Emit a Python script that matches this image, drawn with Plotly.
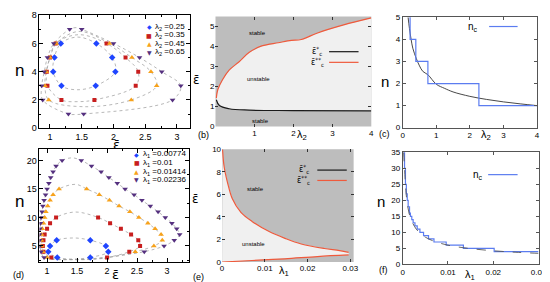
import plotly.graph_objects as go

W, H = 550, 282
FONT = "Liberation Sans"
SYMF = "DejaVu Sans"

# ---------------- data ----------------
# (a) loops: eps_bar vs n for lambda2 values (ordered round each loop)
lam2_labels = ["0.25", "0.35", "0.45", "0.65"]
a_blue_x = [1.42, 1.72, 2.03, 1.98, 1.73, 1.43, 1.17, 1.07, 1.05, 1.18]
a_blue_n = [2.72, 3, 4, 5, 6, 6.45, 6, 5, 4, 3]
a_red_x = [1.45, 1.70, 2.35, 2.39, 2.19, 1.89, 1.45, 1.09, 1.00, 0.95, 0.96, 1.18]
a_red_n = [1.88, 2, 3, 4, 5, 6, 6.62, 6, 5, 4, 3, 2]
a_orange_x = [1.55, 2.28, 2.68, 2.59, 2.29, 1.94, 1.45, 1.10, 1.00, 0.94, 0.92, 0.98]
a_orange_n = [1.52, 2, 3, 4, 5, 6, 6.85, 6, 5, 4, 3, 2]
a_purple_x = [1.41, 1.53, 2.93, 3.06, 2.76, 2.41, 2.00, 1.50, 1.41, 1.31, 1.06, 0.96, 0.91, 0.87, 0.885, 1.29]
a_purple_n = [0.97, 1, 2, 3, 4, 5, 6, 7, 7.12, 7, 6, 5, 4, 3, 2, 1]

# (d) loops: eps_bar vs n for lambda1 values
lam1_labels = ["0.00774", "0.01", "0.01414", "0.02236"]
d_blue_x = [1.42, 1.72, 2.02, 1.98, 1.72, 1.45, 1.16, 1.05, 1.02, 1.17]
d_blue_n = [2.7, 3, 4, 5, 6, 6.4, 6, 5, 4, 3]
d_red_x = [1.45, 2.00, 2.37, 2.55, 2.52, 2.40, 2.23, 2.05, 1.85, 1.47, 1.15, 1.05, 1.00, 0.96, 0.94, 0.93, 0.94, 1.07]
d_red_n = [2.62, 3, 4, 5, 6, 7, 8, 9, 10, 10.95, 10, 9, 8, 7, 6, 5, 4, 3]
d_orange_x = [1.45, 1.95, 2.47, 2.78, 2.92, 2.90, 2.80, 2.68, 2.53, 2.38, 2.20, 2.04, 1.87, 1.66, 1.48,
              1.20, 1.10, 1.05, 1.01, 0.98, 0.96, 0.94, 0.92, 0.91, 0.905, 0.91, 0.93, 1.00]
d_orange_n = [2.6, 2.85, 4, 5, 6, 7, 8, 9, 10, 11, 12, 13, 14, 15, 15.8,
              15, 14, 13, 12, 11, 10, 9, 8, 7, 6, 5, 4, 3]
d_purple_x = [1.42, 2.05, 2.62, 2.95, 3.12, 3.21, 3.16, 3.08, 2.97, 2.85, 2.72, 2.58, 2.45, 2.30, 2.17, 2.03,
              1.90, 1.74, 1.57, 1.42, 1.25, 1.15, 1.10, 1.06, 1.03, 1.00, 0.975, 0.95, 0.93, 0.915, 0.90,
              0.89, 0.88, 0.875, 0.875, 0.88, 0.90, 0.95]
d_purple_n = [2.6, 3.1, 4, 5, 6, 7, 8, 9, 10, 11, 12, 13, 14, 15, 16, 17,
              18, 19, 20, 20.45, 20, 19, 18, 17, 16, 15, 14, 13, 12, 11, 10,
              9, 8, 7, 6, 5, 4, 3]

# (b) critical eps vs lambda2
b_lam_hi = [0.02, 0.06, 0.18, 0.35, 0.6, 0.86, 1.19, 1.61, 1.95, 2.2, 2.62, 3.29, 4.0]
b_eps_hi = [1.42, 1.85, 2.34, 2.82, 3.23, 3.70, 4.03, 4.19, 4.31, 4.35, 4.68, 5.08, 5.43]
b_lam_lo = [0.02, 0.1, 0.35, 0.86, 2.0, 4.0]
b_eps_lo = [1.34, 1.05, 0.89, 0.82, 0.80, 0.78]

# (c) n_c vs lambda2
c_lam_step = [0.20, 0.22, 0.39, 0.75, 2.27, 4.0]
c_n_step = [5, 4, 3, 2, 1, 1]
c_lam_curve = [0.16, 0.2, 0.25, 0.3, 0.4, 0.5, 0.6, 0.75, 1.0, 1.25, 1.5, 2.0, 2.5, 3.0, 3.5, 4.0]
c_n_curve = [5.0, 4.5, 4.0, 3.6, 3.15, 2.8, 2.55, 2.4, 1.97, 1.78, 1.62, 1.42, 1.28, 1.17, 1.08, 1.0]

# (e) critical eps vs lambda1
e_lam_hi = [0.0001, 0.0005, 0.0013, 0.0024, 0.0044, 0.007, 0.011, 0.0147, 0.0185, 0.0239, 0.0275, 0.0296]
e_eps_hi = [10.0, 8.4, 7.0, 5.6, 4.4, 3.6, 2.7, 2.1, 1.6, 1.2, 1.02, 0.86]
e_lam_lo = [0.0, 0.007, 0.0147, 0.0223, 0.0296]
e_eps_lo = [0.0, 0.14, 0.29, 0.49, 0.63]

# (f) n_c vs lambda1
f_lam_step = [0.0002, 0.0004, 0.0006, 0.0008, 0.001, 0.0012, 0.0015, 0.0017, 0.002, 0.0023, 0.0027,
              0.0032, 0.0038, 0.0046, 0.0057, 0.0069, 0.0096, 0.0134, 0.0202, 0.03]
f_n_step = [35, 30, 25, 22, 20, 18, 16, 15, 14, 13, 12, 11, 10, 9, 8, 7, 6, 5, 4, 4]
f_lam_curve = [0.0002, 0.0004, 0.0007, 0.001, 0.0014, 0.002, 0.003, 0.004, 0.005, 0.007, 0.01, 0.014, 0.02, 0.025, 0.03]
f_n_curve = [35, 30, 23, 19, 16, 13.5, 11, 9.6, 8.5, 7.2, 6.0, 5.1, 4.25, 3.8, 3.45]

# ---------------- styles ----------------
BLUE, RED, ORANGE, PURPLE = "#1f45ff", "#c81e1e", "#f7a21b", "#55307f"
SER = [(BLUE, "diamond", 5), (RED, "square", 4), (ORANGE, "triangle-up", 5), (PURPLE, "triangle-down", 5)]
GRAY, LIGHT = "#bdbdbd", "#f0f0f0"
LRED = "#ef5a3c"
STEPBLUE = "#5b7cf0"

fig = go.Figure()


def add_loops(loops, xa, ya):
    for xs, ns in loops:
        fig.add_trace(go.Scatter(x=xs + [xs[0]], y=ns + [ns[0]], mode="lines", xaxis=xa, yaxis=ya,
                                 line=dict(color="#9a9a9a", width=0.7, dash="dot", shape="spline"),
                                 showlegend=False, hoverinfo="skip"))
    for (xs, ns), (col, sym, sz) in zip(loops, SER):
        mx = [x for x, n in zip(xs, ns) if float(n).is_integer()]
        my = [n for n in ns if float(n).is_integer()]
        fig.add_trace(go.Scatter(x=mx, y=my, mode="markers", xaxis=xa, yaxis=ya,
                                 marker=dict(color=col, symbol=sym, size=sz, line=dict(width=0)),
                                 showlegend=False))


add_loops([(a_blue_x, a_blue_n), (a_red_x, a_red_n), (a_orange_x, a_orange_n), (a_purple_x, a_purple_n)], "x", "y")
add_loops([(d_blue_x, d_blue_n), (d_red_x, d_red_n), (d_orange_x, d_orange_n), (d_purple_x, d_purple_n)], "x4", "y4")

# (b)
fig.add_trace(go.Scatter(x=b_lam_lo + b_lam_hi[::-1], y=b_eps_lo + b_eps_hi[::-1], mode="lines",
                         fill="toself", fillcolor=LIGHT, line=dict(width=0), xaxis="x2", yaxis="y2",
                         showlegend=False, hoverinfo="skip"))
fig.add_trace(go.Scatter(x=b_lam_lo, y=b_eps_lo, mode="lines", line=dict(color="#1a1a1a", width=1.2, shape="spline"),
                         xaxis="x2", yaxis="y2", showlegend=False))
fig.add_trace(go.Scatter(x=b_lam_hi, y=b_eps_hi, mode="lines", line=dict(color=LRED, width=1.2, shape="spline"),
                         xaxis="x2", yaxis="y2", showlegend=False))

# (e)
fig.add_trace(go.Scatter(x=e_lam_hi + e_lam_lo[::-1], y=e_eps_hi + e_eps_lo[::-1], mode="lines",
                         fill="toself", fillcolor=LIGHT, line=dict(width=0), xaxis="x5", yaxis="y5",
                         showlegend=False, hoverinfo="skip"))
fig.add_trace(go.Scatter(x=e_lam_lo, y=e_eps_lo, mode="lines", line=dict(color=LRED, width=1.2, shape="spline"),
                         xaxis="x5", yaxis="y5", showlegend=False))
fig.add_trace(go.Scatter(x=e_lam_hi, y=e_eps_hi, mode="lines", line=dict(color=LRED, width=1.2, shape="spline"),
                         xaxis="x5", yaxis="y5", showlegend=False))

# (c)
fig.add_trace(go.Scatter(x=c_lam_curve, y=c_n_curve, mode="lines", line=dict(color="#333333", width=0.9, shape="spline"),
                         xaxis="x3", yaxis="y3", showlegend=False))
fig.add_trace(go.Scatter(x=c_lam_step, y=c_n_step, mode="lines", line=dict(color=STEPBLUE, width=1.2, shape="hv"),
                         xaxis="x3", yaxis="y3", showlegend=False))

# (f)
fig.add_trace(go.Scatter(x=f_lam_step, y=f_n_step, mode="lines", line=dict(color=STEPBLUE, width=1.2, shape="hv"),
                         xaxis="x6", yaxis="y6", showlegend=False))
fig.add_trace(go.Scatter(x=f_lam_curve, y=f_n_curve, mode="lines",
                         line=dict(color="#555555", width=0.9, dash="dash", shape="spline"),
                         xaxis="x6", yaxis="y6", showlegend=False))


def dom(p0, p1, total):
    return [p0 / total, p1 / total]


def ydom(top, bottom):
    return [1 - bottom / H, 1 - top / H]


tf9 = dict(size=9, family=FONT, color="black")
tf8 = dict(size=8, family=FONT, color="black")
box = dict(showline=True, linecolor="black", linewidth=1, mirror="allticks", ticks="inside", ticklen=4,
           tickcolor="black", showgrid=False, zeroline=False, tickfont=tf9)
gbox = dict(showline=True, linecolor="#555555", linewidth=1, mirror="allticks", ticks="inside", ticklen=3,
            tickcolor="#555555", showgrid=False, zeroline=False, tickfont=tf8)
gray = dict(showline=False, mirror="ticks", ticks="inside", ticklen=3, tickcolor="#333333",
            showgrid=False, zeroline=False, tickfont=tf8)

fig.update_layout(
    width=W, height=H, margin=dict(l=0, r=0, t=0, b=0),
    paper_bgcolor="white", plot_bgcolor="rgba(0,0,0,0)", showlegend=False,
    xaxis=dict(box, domain=dom(30, 183, W), range=[0.834, 3.2], anchor="y", tickvals=[1, 1.5, 2, 2.5, 3],
               minor=dict(ticks="inside", ticklen=2, dtick=0.25, tickcolor="black")),
    yaxis=dict(box, domain=ydom(3.3, 120), range=[0, 8], anchor="x", tickvals=[0, 2, 4, 6, 8],
               minor=dict(ticks="inside", ticklen=2, dtick=1, tickcolor="black")),
    xaxis2=dict(gray, domain=dom(209.3, 368, W), range=[0, 4], anchor="y2", tickvals=[1, 2, 3, 4]),
    yaxis2=dict(gray, domain=ydom(4.7, 118.3), range=[0, 5.5], anchor="x2", tickvals=[0, 1, 2, 3, 4, 5]),
    xaxis3=dict(gbox, domain=dom(400, 536.7, W), range=[0, 4], anchor="y3", tickvals=[0, 1, 2, 3, 4]),
    yaxis3=dict(gbox, domain=ydom(5.5, 119.5), range=[0, 5], anchor="x3", tickvals=[0, 1, 2, 3, 4, 5]),
    xaxis4=dict(box, domain=dom(30, 182, W), range=[0.873, 3.36], anchor="y4", tickvals=[1, 1.5, 2, 2.5, 3],
                minor=dict(ticks="inside", ticklen=2, dtick=0.25, tickcolor="black")),
    yaxis4=dict(box, domain=ydom(141.7, 258.3), range=[2.18, 21.97], anchor="x4", tickvals=[5, 10, 15, 20],
                minor=dict(ticks="inside", ticklen=2, dtick=2.5, tickcolor="black")),
    xaxis5=dict(gray, domain=dom(216, 350, W), range=[0, 0.03076], anchor="y5", tickvals=[0, 0.01, 0.02, 0.03],
                ticktext=["0", "0.01", "0.02", "0.03"]),
    yaxis5=dict(gray, domain=ydom(141.7, 258.3), range=[0, 10], anchor="x5", tickvals=[0, 2, 4, 6, 8, 10]),
    xaxis6=dict(gbox, domain=dom(400, 538.3, W), range=[0, 0.03], anchor="y6", tickvals=[0, 0.01, 0.02, 0.03],
                ticktext=["0", "0.01", "0.02", "0.03"]),
    yaxis6=dict(gbox, domain=ydom(145, 260.7), range=[0, 35], anchor="x6", tickvals=[0, 5, 10, 15, 20, 25, 30, 35]),
)

# gray backgrounds for (b) and (e)
for xa, ya in [("x2", "y2"), ("x5", "y5")]:
    fig.add_shape(type="rect", xref=xa + " domain", yref=ya + " domain", x0=0, x1=1, y0=0, y1=1,
                  fillcolor=GRAY, line=dict(width=0), layer="below")


def txt(s, x, y, size, color="black", xanchor="center", family=FONT):
    fig.add_annotation(text=s, x=x / W, y=1 - y / H, xref="paper", yref="paper", showarrow=False,
                       xanchor=xanchor, yanchor="middle", font=dict(size=size, family=family, color=color))


def hline(x0, x1, y, color):
    fig.add_shape(type="line", xref="paper", yref="paper", x0=x0 / W, x1=x1 / W, y0=1 - y / H, y1=1 - y / H,
                  line=dict(color=color, width=1.2))


EB = "ε\u0304"
# axis titles
txt("n", 10, 60, 17)
txt(EB, 108, 137, 13, family=SYMF)
txt(EB, 190, 70, 12, family=SYMF)
txt("λ<sub>2</sub>", 297, 127, 11)
txt("n", 382, 72, 15)
txt("λ<sub>2</sub>", 485, 127, 11)
txt("n", 10, 196, 17)
txt(EB, 107, 271, 13, family=SYMF)
txt(EB, 189, 193, 12, family=SYMF)
txt("λ<sub>1</sub>", 279, 268, 11)
txt("n", 378, 196, 15)
txt("λ<sub>1</sub>", 469, 272, 11)

# panel labels
txt("(b)", 197, 127, 9)
txt("(c)", 381, 126, 9)
txt("(d)", 9, 272, 9)
txt("(e)", 192, 274, 9)
txt("(f)", 380, 267, 9)

# region labels
txt("stable", 252, 22, 6)
txt("unstable", 253, 69, 6)
txt("stable", 255, 113, 6)
txt("stable", 250, 183, 6)
txt("unstable", 248, 240, 6)

# legends (a) and (d)
GLY = ["◆", "■", "▲", "▼"]
for i, (lab, (col, sym, sz)) in enumerate(zip(lam2_labels, SER)):
    yy = [15, 24, 32.7, 41.7][i]
    txt(GLY[i], 142, yy, 6, color=col, family=SYMF)
    txt("λ<sub>2</sub> =" + lab, 146, yy, 8, xanchor="left")
for i, (lab, (col, sym, sz)) in enumerate(zip(lam1_labels, SER)):
    yy = [146.7, 155.7, 165, 173.3][i]
    txt(GLY[i], 129, yy, 6, color=col, family=SYMF)
    txt("λ<sub>1</sub> =" + lab, 133, yy, 8, xanchor="left")

# legends (b), (e)
txt(EB + "<sup>*</sup><sub>c</sub>", 313, 41, 8, family=SYMF)
txt(EB + "<sup>**</sup><sub>c</sub>", 313, 52, 8, family=SYMF)
hline(325, 355, 41, "#1a1a1a")
hline(325, 355, 52, LRED)
txt(EB + "<sup>*</sup><sub>c</sub>", 299, 163, 8, family=SYMF)
txt(EB + "<sup>**</sup><sub>c</sub>", 299, 174, 8, family=SYMF)
hline(313, 343, 163.3, "#1a1a1a")
hline(313, 343, 174, LRED)

# legends (c), (f)
txt("n<sub>c</sub>", 472, 15, 10)
hline(488, 517, 15, STEPBLUE)
txt("n<sub>c</sub>", 477, 168, 10)
hline(487, 517, 168, STEPBLUE)

fig.write_html("out.html")
